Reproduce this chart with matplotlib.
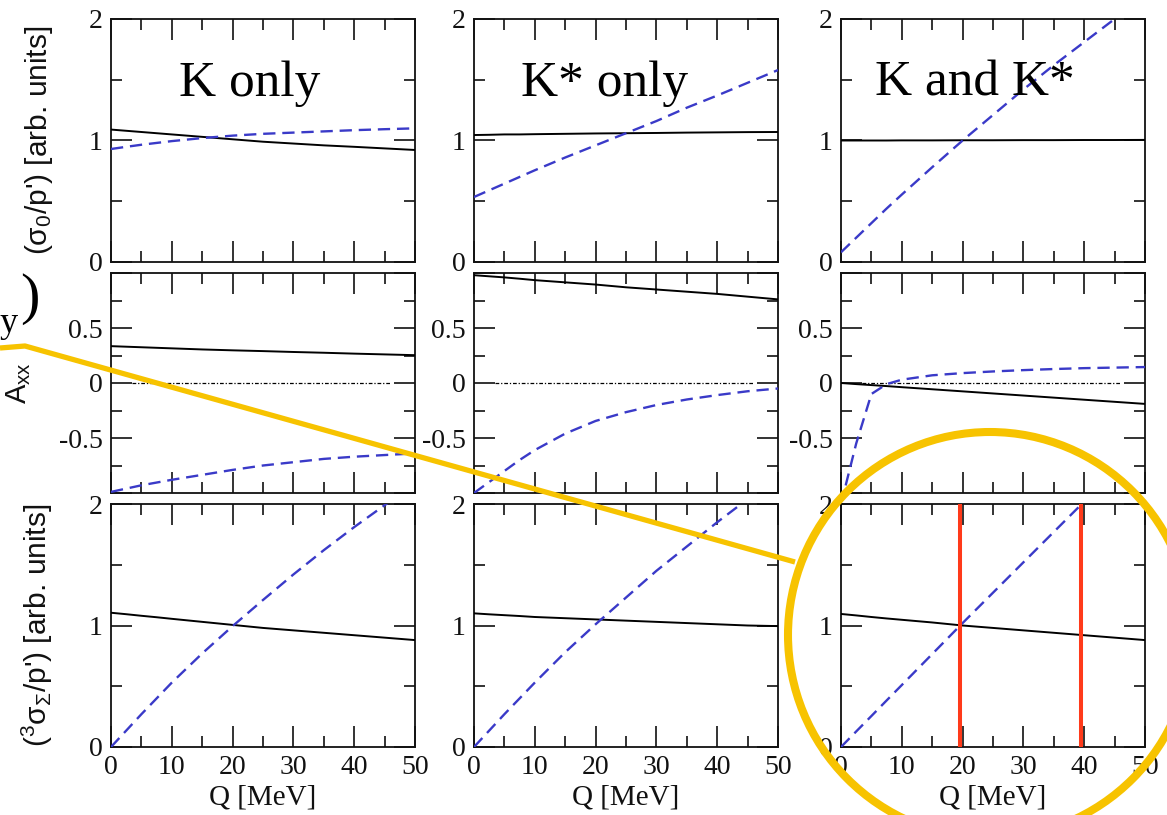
import matplotlib
matplotlib.use("Agg")
import matplotlib.pyplot as plt
from matplotlib.ticker import MultipleLocator, FixedLocator, FuncFormatter
from matplotlib.patches import Ellipse

plt.rcParams["axes.unicode_minus"] = False
plt.rcParams["mathtext.fontset"] = "custom"
plt.rcParams["mathtext.rm"] = "Liberation Sans"
plt.rcParams["mathtext.it"] = "Liberation Sans"
plt.rcParams["mathtext.default"] = "rm"

# ---- data -------------------------------------------------------------
Q = [0, 2.5, 5, 7.5, 10, 15, 20, 25, 30, 35, 40, 45, 50]

titles = ["K only", "K* only", "K and K*"]

# sigma_0 / p'
sig0_solid_K = [1.09, 1.08, 1.07, 1.06, 1.05, 1.03, 1.01, 0.99, 0.975, 0.96, 0.948, 0.935, 0.922]
sig0_dash_K = [0.93, 0.948, 0.965, 0.98, 0.995, 1.02, 1.04, 1.055, 1.065, 1.075, 1.085, 1.093, 1.10]
sig0_solid_Ks = [1.045, 1.047, 1.05, 1.05, 1.052, 1.055, 1.058, 1.06, 1.062, 1.065, 1.067, 1.069, 1.07]
sig0_dash_Ks = [0.535, 0.59, 0.645, 0.70, 0.755, 0.86, 0.96, 1.06, 1.16, 1.27, 1.37, 1.475, 1.58]
sig0_solid_both = [1.0, 1.0, 1.0, 1.0, 1.001, 1.001, 1.002, 1.002, 1.003, 1.003, 1.004, 1.004, 1.005]
sig0_dash_both = [0.08, 0.2, 0.32, 0.44, 0.555, 0.78, 1.0, 1.21, 1.42, 1.62, 1.81, 2.0, 2.18]

# A_xx
axx_solid_K = [0.335, 0.33, 0.325, 0.32, 0.315, 0.305, 0.297, 0.29, 0.282, 0.275, 0.267, 0.26, 0.253]
axx_dash_K = [-0.99, -0.96, -0.93, -0.905, -0.88, -0.835, -0.79, -0.75, -0.72, -0.69, -0.67, -0.655, -0.64]
axx_solid_Ks = [0.98, 0.97, 0.96, 0.948, 0.935, 0.915, 0.895, 0.87, 0.85, 0.83, 0.81, 0.785, 0.76]
axx_dash_Ks = [-1.0, -0.9, -0.8, -0.7, -0.61, -0.46, -0.345, -0.265, -0.2, -0.15, -0.11, -0.075, -0.05]
axx_solid_both = [0.0, -0.01, -0.019, -0.028, -0.038, -0.057, -0.076, -0.095, -0.114, -0.133, -0.152, -0.171, -0.19]
axx_dash_both = [-1.1, -0.55, -0.1, -0.01, 0.03, 0.07, 0.09, 0.105, 0.117, 0.127, 0.135, 0.14, 0.145]

# 3 sigma_Sigma / p'
sigS_solid_K = [1.105, 1.093, 1.08, 1.068, 1.055, 1.03, 1.005, 0.98, 0.96, 0.94, 0.92, 0.9, 0.88]
sigS_dash_K = [0.0, 0.135, 0.27, 0.4, 0.53, 0.77, 0.995, 1.21, 1.42, 1.62, 1.81, 1.99, 2.17]
sigS_solid_Ks = [1.10, 1.092, 1.085, 1.078, 1.07, 1.06, 1.05, 1.04, 1.03, 1.02, 1.01, 1.0, 0.995]
sigS_dash_Ks = [0.0, 0.135, 0.27, 0.4, 0.53, 0.78, 1.01, 1.23, 1.45, 1.65, 1.85, 2.04, 2.22]
sigS_solid_both = [1.095, 1.083, 1.07, 1.058, 1.047, 1.025, 1.0, 0.98, 0.96, 0.94, 0.92, 0.9, 0.88]
sigS_dash_both = [0.0, 0.128, 0.255, 0.383, 0.51, 0.765, 1.02, 1.27, 1.52, 1.77, 2.02, 2.27, 2.52]

# energies highlighted in the combined panel
q_marks = [19.5, 39.5]

# zero reference in the asymmetry row
zero_line_q = [3.5, 46.0]
zero_line_val = [0.0, 0.0]

solid = [
    [sig0_solid_K, sig0_solid_Ks, sig0_solid_both],
    [axx_solid_K, axx_solid_Ks, axx_solid_both],
    [sigS_solid_K, sigS_solid_Ks, sigS_solid_both],
]
dashed = [
    [sig0_dash_K, sig0_dash_Ks, sig0_dash_both],
    [axx_dash_K, axx_dash_Ks, axx_dash_both],
    [sigS_dash_K, sigS_dash_Ks, sigS_dash_both],
]
ylabels = [r"($\sigma_0$/p') [arb. units]", r"A$_{xx}$", r"($^3\sigma_\Sigma$/p') [arb. units]"]
xticks = [0, 10, 20, 30, 40, 50]

# ---- figure -----------------------------------------------------------
W, H = 1167, 815
fig = plt.figure(figsize=(W / 100, H / 100), dpi=100)

col_left = [111, 474, 841]
col_width = 304
row_top = [19, 273, 504]
row_bottom = [262, 493, 747]

SERIF = "Liberation Serif"
SANS = "Liberation Sans"
INK = "#111111"
BLUE = "#3a3ac8"

for r in range(3):
    for c in range(3):
        x0 = col_left[c] / W
        y0 = 1 - row_bottom[r] / H
        h = (row_bottom[r] - row_top[r]) / H
        ax = fig.add_axes([x0, y0, col_width / W, h])
        ax.plot(Q, solid[r][c], color="black", lw=1.4, zorder=3)
        ax.plot(Q, dashed[r][c], color=BLUE, lw=1.7, dashes=(5.2, 2.9), zorder=3)
        ax.set_xlim(0, 50)
        if r == 1:
            ax.set_ylim(-1, 1)
            ax.plot(zero_line_q, zero_line_val, color="black", lw=0.9,
                    linestyle=(0, (3, 1.5, 1, 1.5)), zorder=2)
            ax.yaxis.set_major_locator(FixedLocator([-1, -0.5, 0, 0.5, 1]))
            ax.yaxis.set_minor_locator(FixedLocator([-0.75, -0.25, 0.25, 0.75]))
            ax.yaxis.set_major_formatter(FuncFormatter(
                lambda v, p: "" if abs(v) > 0.9 else ("0" if v == 0 else f"{v:g}")))
        else:
            ax.set_ylim(0, 2)
            ax.yaxis.set_major_locator(FixedLocator([0, 1, 2]))
            ax.yaxis.set_minor_locator(MultipleLocator(0.5))
            ax.yaxis.set_major_formatter(FuncFormatter(lambda v, p: f"{v:g}"))
        ax.xaxis.set_major_locator(FixedLocator(xticks))
        ax.xaxis.set_minor_locator(MultipleLocator(5))
        ax.tick_params(which="both", direction="in", top=True, right=True,
                       width=1.2, colors=INK, labelsize=20, pad=6)
        ax.tick_params(which="major", length=15)
        ax.tick_params(which="minor", length=8)
        for lab in ax.get_xticklabels() + ax.get_yticklabels():
            lab.set_fontfamily(SERIF)
        for s in ax.spines.values():
            s.set_linewidth(1.3)
            s.set_color(INK)
        if r < 2:
            ax.tick_params(labelbottom=False)
        else:
            ax.set_xlabel("Q [MeV]", fontfamily=SERIF, fontsize=21, color=INK)
            ax.xaxis.set_label_coords(0.5, -0.155)
        if r == 0:
            tx = [0.457, 0.43, 0.44][c]
            ax.text(tx, 0.685, titles[c], transform=ax.transAxes, ha="center",
                    va="baseline", fontfamily=SERIF, fontsize=37, color="black")
        if c == 0:
            fs = 21 if r == 1 else 21.5
            ax.set_ylabel(ylabels[r], fontfamily=SANS, fontsize=fs, color=INK)
            ax.yaxis.set_label_coords(-0.255 if r == 1 else -0.184, 0.5)
        if r == 2 and c == 2:
            for qm in q_marks:
                ax.axvline(qm, color="#ff3a1a", lw=2.9, zorder=4)

# ---- overlay: highlight and pointer -----------------------------------
ov = fig.add_axes([0, 0, 1, 1], zorder=10)
ov.set_xlim(0, W)
ov.set_ylim(H, 0)
ov.set_facecolor("none")
ov.axis("off")
GOLD = "#f7c300"
ov.plot([0, 25, 795], [348, 346, 562], color=GOLD, lw=3.8, solid_capstyle="butt")
ov.add_patch(Ellipse((990, 635), 404, 406, fill=False, edgecolor=GOLD, lw=5.8))
ov.text(0, 332, "y", ha="left", va="baseline", fontfamily=SERIF, fontsize=26, color="black")
ov.text(20, 299, ")", ha="left", va="center", fontfamily=SERIF, fontsize=42, color="black")

fig.savefig("out.png", dpi=100)
